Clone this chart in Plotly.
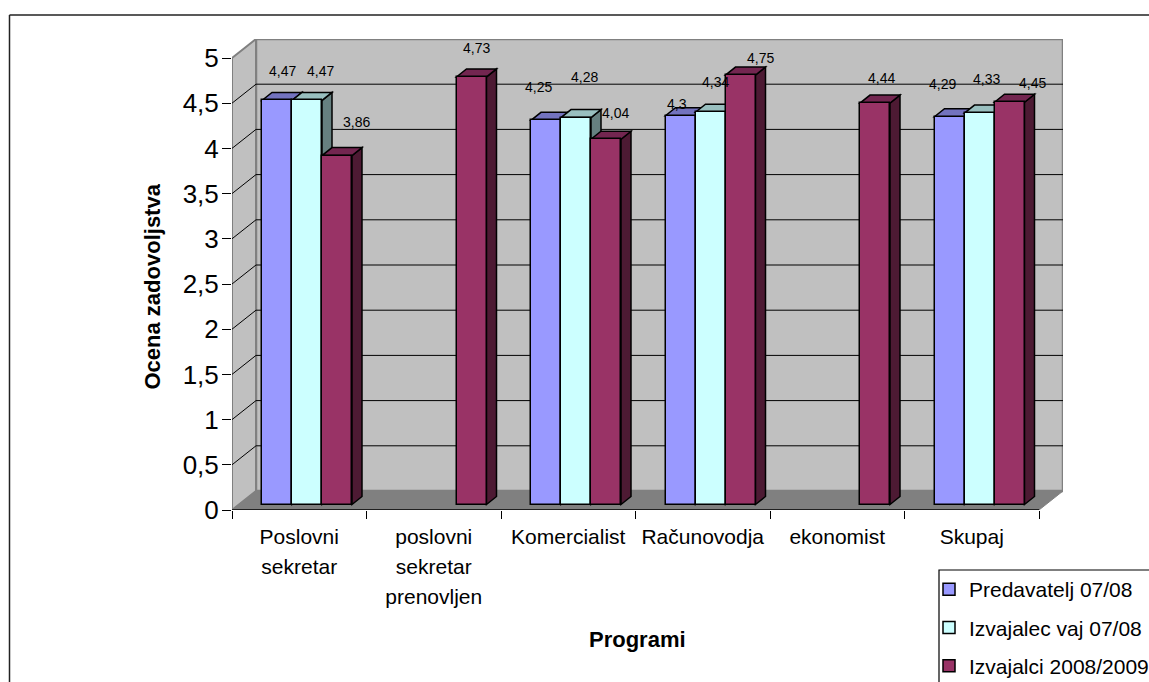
import plotly.graph_objects as go

# ---- data ----
categories = ["Poslovni<br>sekretar", "poslovni<br>sekretar<br>prenovljen", "Komercialist",
              "Računovodja", "ekonomist", "Skupaj"]
predavatelj = [4.47, None, 4.25, 4.3, None, 4.29]
izvajalec = [4.47, None, 4.28, 4.34, None, 4.33]
izvajalci = [3.86, 4.73, 4.04, 4.75, 4.44, 4.45]
series_names = ["Predavatelj 07/08", "Izvajalec vaj 07/08", "Izvajalci 2008/2009"]
y_ticks = [0, 0.5, 1, 1.5, 2, 2.5, 3, 3.5, 4, 4.5, 5]
y_title = "Ocena zadovoljstva"
x_title = "Programi"

# manual data-label offsets (pixels, from each bar's top centre)
label_dx = [[5, None, -8, -3.5, None, -7],
            [13, None, 8, 4.5, None, 7],
            [19, 4.5, 9, 20, 6, 23]]
label_dy = [[29, None, 33, 12, None, 33],
            [29, None, 41, 30, None, 34],
            [34, 29, 26, 17, 25, 19]]

# ---- styling / geometry ----
W, H = 1149, 682
L, R, T, B = 232, 1063, 39, 510           # plot box in pixels
PX_X = 134.5                              # pixels per category
PX_Y = 90.4                               # pixels per value unit
X_MAX = (R - L) / PX_X
Y_MAX = (B - T) / PX_Y
WALL_DX, WALL_DY = X_MAX - 6, Y_MAX - 5   # depth of the chart floor
BAR_W = 30 / PX_X
BAR_START = 30 / PX_X
BAR_BASE = 5.5 / PX_Y
DEPTH_X, DEPTH_Y = 10 / PX_X, 8 / PX_Y
colors = ["#9999FF", "#CCFFFF", "#993366"]
top_colors = ["#7373BF", "#99BFBF", "#732650"]
side_colors = ["#4D4D80", "#668080", "#4D1A33"]
WALL = "#C0C0C0"
FLOOR = "#808080"
FONT = "Liberation Sans, Arial, sans-serif"
CATEGORY_SIZE = 21


def poly(points):
    return "M" + "L".join(f"{x},{y}" for x, y in points) + "Z"


def paper_x(px):
    return (px - L) / (R - L)


def paper_y(px):
    return (B - px) / (B - T)


shapes = []


def data_shape(points, fill, line, width=1.0, layer="below"):
    shapes.append(dict(type="path", path=poly(points), xref="x", yref="y", layer=layer,
                       fillcolor=fill, line=dict(color=line, width=width)))


def data_line(x0, y0, x1, y1, color="#000000", width=1.0, layer="below"):
    shapes.append(dict(type="line", x0=x0, y0=y0, x1=x1, y1=y1, xref="x", yref="y", layer=layer,
                       line=dict(color=color, width=width)))


# walls and floor
data_shape([(WALL_DX, WALL_DY), (X_MAX, WALL_DY), (X_MAX, Y_MAX), (WALL_DX, Y_MAX)], WALL, FLOOR, 2.5)
data_shape([(0, 0), (WALL_DX, WALL_DY), (WALL_DX, Y_MAX), (0, 5)], WALL, FLOOR, 2)
data_shape([(0, 0), (6, 0), (X_MAX, WALL_DY), (WALL_DX, WALL_DY)], FLOOR, FLOOR, 1)
# gridlines on both walls
for v in y_ticks[1:-1]:
    data_line(0, v, WALL_DX, v + WALL_DY)
    data_line(WALL_DX, v + WALL_DY, X_MAX, v + WALL_DY)
data_line(0, 0, 6, 0, "#000000", 1.5)

# bars: front faces come from real bar traces, side and top faces from shapes behind them
all_series = [predavatelj, izvajalec, izvajalci]
traces = []
annotations = []
for i in range(len(categories)):
    for s, vals in enumerate(all_series):
        v = vals[i]
        if v is None:
            continue
        x0 = i + BAR_START + s * BAR_W
        x1 = x0 + BAR_W
        top = v + BAR_BASE
        data_shape([(x1, BAR_BASE), (x1 + DEPTH_X, BAR_BASE + DEPTH_Y),
                    (x1 + DEPTH_X, top + DEPTH_Y), (x1, top)],
                   side_colors[s], "#000000", 1.5, "between")
        data_shape([(x0, top), (x1, top), (x1 + DEPTH_X, top + DEPTH_Y), (x0 + DEPTH_X, top + DEPTH_Y)],
                   top_colors[s], "#000000", 1.5, "between")
        annotations.append(dict(x=(x0 + x1) / 2, y=top, xref="x", yref="y",
                                text=str(v).replace(".", ","), showarrow=False,
                                xanchor="center", yanchor="middle",
                                xshift=label_dx[s][i], yshift=label_dy[s][i],
                                font=dict(family=FONT, size=14, color="#000000")))

for s, vals in enumerate(all_series):
    xs = [i + BAR_START + (s + 0.5) * BAR_W for i in range(len(categories))]
    traces.append(go.Bar(x=xs, y=vals, base=BAR_BASE, width=BAR_W, name=series_names[s],
                         legendgroup=series_names[s],
                         marker=dict(color=colors[s], line=dict(color="#000000", width=1.5)),
                         hoverinfo="y"))

# axis titles placed to the reference's off-centre positions
annotations.append(dict(x=paper_x(637.5), y=paper_y(639), xref="paper", yref="paper", text=x_title,
                        showarrow=False, xanchor="center", yanchor="middle",
                        font=dict(family=FONT, size=22, color="#000000", weight="bold")))
annotations.append(dict(x=paper_x(152), y=paper_y(286.5), xref="paper", yref="paper", text=y_title,
                        showarrow=False, xanchor="center", yanchor="middle", textangle=-90,
                        font=dict(family=FONT, size=22, color="#000000", weight="bold")))

# chart frame and legend box (pixel geometry of the page)
for (a, b, c, d) in [(9.5, 15, W + 5, 15), (9.5, 15, 9.5, H + 5)]:
    shapes.append(dict(type="line", xref="paper", yref="paper", layer="below",
                       x0=paper_x(a), y0=paper_y(b), x1=paper_x(c), y1=paper_y(d),
                       line=dict(color="#222222", width=1.5)))
shapes.append(dict(type="rect", xref="paper", yref="paper", layer="above",
                   x0=paper_x(939), y0=paper_y(570), x1=paper_x(W + 10), y1=paper_y(H + 10),
                   fillcolor="#FFFFFF", line=dict(color="#000000", width=1.2)))

# tick labels: the outer font size sets the wider line spacing, the span the glyph size
tick_text = ["<br>".join(f'<span style="font-size:{CATEGORY_SIZE}px">{line}</span>' for line in c.split("<br>"))
             for c in categories]

fig = go.Figure(traces)
fig.update_layout(
    width=W, height=H, autosize=False,
    margin=dict(l=L, r=W - R, t=T, b=H - B, pad=0, autoexpand=False),
    paper_bgcolor="#FFFFFF", plot_bgcolor="#FFFFFF",
    barmode="overlay", bargap=0,
    font=dict(family=FONT, color="#000000"),
    shapes=shapes, annotations=annotations,
    separators=",.",
    legend=dict(x=paper_x(929), y=paper_y(569), xanchor="left", yanchor="top",
                bgcolor="rgba(0,0,0,0)", borderwidth=0, tracegroupgap=8,
                traceorder="grouped", font=dict(family=FONT, size=21, color="#000000")),
    xaxis=dict(range=[0, X_MAX], showgrid=False, zeroline=False, showline=False,
               tickmode="array", tickvals=[i + 0.5 for i in range(len(categories))],
               ticktext=tick_text, ticks="", ticklabelstandoff=10,
               tickfont=dict(family=FONT, size=23, color="#000000"), tickangle=0,
               minor=dict(tickmode="array", tickvals=list(range(len(categories) + 1)), ticks="outside",
                          ticklen=8, tickwidth=1, tickcolor="#000000", showgrid=False)),
    yaxis=dict(range=[0, Y_MAX], showgrid=False, zeroline=False, showline=False,
               tickmode="array", tickvals=y_ticks, ticks="outside", ticklen=9, tickwidth=1,
               tickcolor="#000000", ticklabelstandoff=-2,
               tickfont=dict(family=FONT, size=26, color="#000000")),
)

fig.write_html("out.html", config={"displayModeBar": False},
               post_script="document.body.style.margin='0';")
